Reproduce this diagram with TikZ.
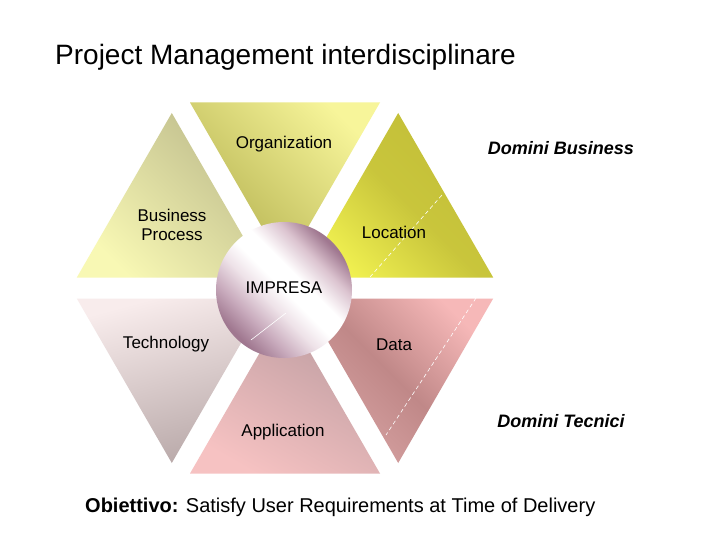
\documentclass[tikz,border=0pt]{standalone}
\usepackage{fontspec}
\setmainfont{Liberation Sans}
\definecolor{ciA}{HTML}{A07890}
\definecolor{ciM}{HTML}{C8AABC}
\definecolor{ciL}{HTML}{EEE2E8}
\definecolor{ciP}{HTML}{DCC4D0}
\pgfdeclarehorizontalshading{ballband}{100bp}{color(0bp)=(ciA); color(26bp)=(ciA); color(34bp)=(ciM); color(43bp)=(ciL); color(50bp)=(white); color(57bp)=(white); color(66bp)=(ciP); color(74bp)=(ciA); color(100bp)=(ciA)}
\begin{document}
\begin{tikzpicture}[x=1pt,y=-1pt,
  lbl/.style={font=\fontsize{17}{19.5}\selectfont, align=center, text=black, inner sep=0pt},
  dom/.style={font=\fontsize{18}{21}\selectfont\bfseries\itshape, inner sep=0pt},
  artline/.style={white, line width=0.6pt, dash pattern=on 4pt off 3pt}]
\useasboundingbox (0,0) rectangle (720,540);
\fill[white] (0,0) rectangle (720,540);
\definecolor{bpA}{HTML}{BEBC8C}
\definecolor{bpB}{HTML}{F8F8B4}
\definecolor{orA}{HTML}{B5B250}
\definecolor{orB}{HTML}{F7F59A}
\definecolor{loA}{HTML}{C2BE38}
\definecolor{loB}{HTML}{F0F050}
\definecolor{teA}{HTML}{F8ECEC}
\definecolor{teB}{HTML}{B8A8A8}
\definecolor{apA}{HTML}{BC9CA0}
\definecolor{apB}{HTML}{F6C2C2}
\definecolor{daA}{HTML}{F6B8B8}
\definecolor{daB}{HTML}{C08888}
\definecolor{daC}{HTML}{D8A4A4}
% triangles
\shade[top color=bpA, bottom color=bpB, shading angle=-45]
  (266.8,277.5) -- (76.8,277.5) -- (171.8,113) -- cycle;
\shade[top color=orB, bottom color=orA, shading angle=-45]
  (285,267) -- (190,102.5) -- (380,102.5) -- cycle;
\shade[top color=loA, bottom color=loB, middle color=loA!85!loB, shading angle=-45]
  (303.2,277.5) -- (493.2,277.5) -- (398.2,113) -- cycle;
\shade[top color=teA, bottom color=teB, shading angle=15]
  (266.8,298.5) -- (76.8,298.5) -- (171.8,463) -- cycle;
\shade[top color=apA, bottom color=apB, shading angle=-30]
  (285,309) -- (190,473.5) -- (380,473.5) -- cycle;
\shade[top color=daA, bottom color=daC, middle color=daB, shading angle=-45]
  (303.2,298.5) -- (493.2,298.5) -- (398.2,463) -- cycle;
% artifact lines
\draw[artline] (370,277) -- (442,195);
\draw[artline] (476,298) -- (386,435);
% centre circle
\shade[shading=ballband, shading angle=45]
  (284,290) circle[radius=68];
\draw[white, line width=0.6pt] (251,340) -- (286,313);
% labels
\node[lbl] (org) at (284,144) {Organization};
\node[lbl] (bp) at (172,225) {Business\\Process};
\node[lbl] (loc) at (394,232) {Location};
\node[lbl] (imp) at (284,288) {IMPRESA};
\node[lbl] (tec) at (166,344) {Technology};
\node[lbl] (dat) at (394,345) {Data};
\node[lbl] (app) at (283,432) {Application};
\node[dom] (db) at (561,148) {Domini Business};
\node[dom] (dt) at (561,421) {Domini Tecnici};
\node[font=\fontsize{28}{32}\selectfont, inner sep=0pt, anchor=west] (title) at (55,57) {Project Management interdisciplinare};
\node[font=\fontsize{20}{24}\selectfont, inner sep=0pt, anchor=west] (obj) at (85,507) {\textbf{Obiettivo:} Satisfy User Requirements at Time of Delivery};
\end{tikzpicture}
\end{document}
